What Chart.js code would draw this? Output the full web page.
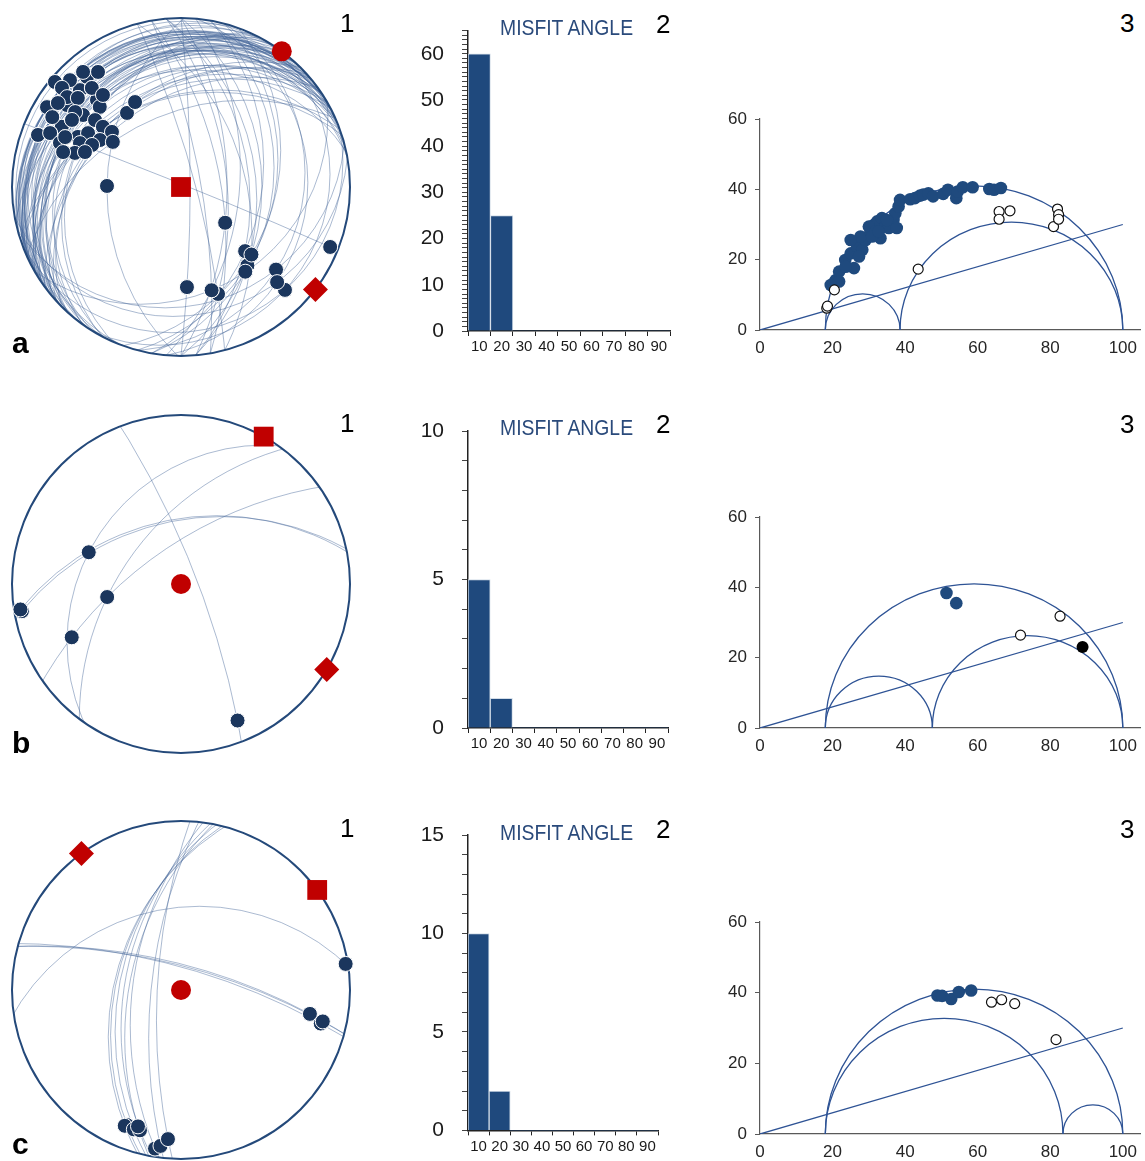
<!DOCTYPE html>
<html>
<head>
<meta charset="utf-8">
<script src="https://cdn.jsdelivr.net/npm/chart.js@4.4.1/dist/chart.umd.min.js"></script>
<style>
  html, body { margin: 0; padding: 0; background: #fff; overflow: hidden; }
  #page { position: relative; width: 1145px; height: 1161px; overflow: hidden; background: #fff;
          font-family: 'Liberation Sans', Arial, sans-serif; }
  canvas { position: absolute; }
  .lbl { position: absolute; line-height: 1; white-space: nowrap; color: #000; }
  .row { font-weight: bold; font-size: 30px; }
  .num { font-size: 26px; }
  .title { font-size: 22px; color: #2a4a7b; transform: scaleX(0.88); transform-origin: left top; }
</style>
</head>
<body>
<div id="page">
  <canvas id="netA" width="370" height="370" style="left:-4px;top:2px"></canvas>
  <canvas id="netB" width="370" height="370" style="left:-4px;top:399px"></canvas>
  <canvas id="netC" width="370" height="370" style="left:-4px;top:805px"></canvas>

  <canvas id="histA" width="290" height="370" style="left:400px;top:0px"></canvas>
  <canvas id="histB" width="290" height="370" style="left:400px;top:400px"></canvas>
  <canvas id="histC" width="290" height="361" style="left:400px;top:800px"></canvas>

  <canvas id="mohrA" width="445" height="280" style="left:700px;top:90px"></canvas>
  <canvas id="mohrB" width="445" height="280" style="left:700px;top:490px"></canvas>
  <canvas id="mohrC" width="445" height="271" style="left:700px;top:890px"></canvas>

  <div class="lbl row" style="left:12px;top:328px">a</div>
  <div class="lbl row" style="left:12px;top:728px">b</div>
  <div class="lbl row" style="left:12px;top:1129px">c</div>

  <div class="lbl num" style="left:340px;top:10px">1</div>
  <div class="lbl num" style="left:340px;top:410px">1</div>
  <div class="lbl num" style="left:340px;top:815px">1</div>
  <div class="lbl num" style="left:656px;top:11px">2</div>
  <div class="lbl num" style="left:656px;top:411px">2</div>
  <div class="lbl num" style="left:656px;top:816px">2</div>
  <div class="lbl num" style="left:1120px;top:10px">3</div>
  <div class="lbl num" style="left:1120px;top:411px">3</div>
  <div class="lbl num" style="left:1120px;top:816px">3</div>

  <div class="lbl title" style="left:500px;top:17px">MISFIT ANGLE</div>
  <div class="lbl title" style="left:500px;top:417px">MISFIT ANGLE</div>
  <div class="lbl title" style="left:500px;top:822px">MISFIT ANGLE</div>
</div>

<script>
// fault data: [strike (right hand rule), dip, trend of the slip line]
const faultsA = [
  [220, 1.7, 309.8], [244, 5.6, 313.9], [255, 7.1, 319.6], [244, 10.1, 324.2], [260, 10.2, 319.5],
  [238, 5.3, 309.8], [256, 12.6, 313.8], [243, 14, 318], [230, 19, 319.7], [238, 9.2, 308.3],
  [246, 13.5, 310.8], [236, 19.1, 316], [241, 5.3, 300.8], [232, 7.6, 304.3], [248, 12.4, 305.7],
  [240, 22.7, 314.6], [208, 8.1, 298.5], [235, 15.9, 305.3], [232, 14.7, 296.8], [222, 16, 301.6],
  [246, 21.1, 306.3], [236, 25.5, 307.9], [250, 33.8, 307.6], [234, 35.8, 308.6], [200, 6, 290],
  [222, 10.7, 292.4], [228, 18.1, 293.3], [216, 22, 295.9], [240, 28.4, 300.1], [228, 33.3, 300.1],
  [246, 43.2, 303.5], [215, 15.9, 290], [204, 23.8, 293.5], [225, 31.1, 295.3], [222, 19.6, 286.5],
  [208, 23.5, 287.8], [230, 31.2, 290], [252, 34.4, 323.9], [242, 30.5, 331.6], [181, 42.7, 270.8],
  [252, 6, 313.9], [246, 10.2, 324.2], [245, 5.5, 309.8], [250, 14.5, 318], [230, 8.9, 308.3],
  [226, 12.3, 310.8], [216, 4.6, 300.8], [239, 7.9, 304.3], [236, 9.2, 298.5], [227, 15.3, 305.3],
  [237, 17.3, 301.6], [225, 6.6, 290], [214, 10.3, 292.4], [212, 15.7, 290], [207, 18.2, 286.5],
  [223, 17.5, 293.3], [240, 6.5, 319.6], [258, 21.3, 319.7],
  [350, 63.5, 129], [10, 39, 135], [20, 32.2, 133.8], [0, 38.8, 139.8], [355, 42, 142.8],
  [15, 18.3, 131], [5, 16.3, 134.7], [30, 8.5, 134.7], [0, 83.8, 176.6], [350, 76.4, 163.5],
  [345, 80.2, 160.9], [355, 45.9, 135], [15, 32.2, 139.8], [75, 19.8, 131], [70, 9.1, 134.7],
  [80, 15.4, 134.7], [355, 59.4, 160.9], [5, 51.8, 163.5], [345, 48.1, 133.8], [10, 33.2, 142.8],
  [0, 59.5, 129], [60, 25.6, 163.5], [292, 88, 111.9]
];
const faultsB = [
  [339, 79, 157.5], [258, 49, 260.3], [259, 48, 261], [215, 31, 289], [217, 53, 260], [235, 65, 244]
];
const faultsC = [
  [194, 48, 201.8], [195, 47, 202.5], [192, 50, 198.7], [190, 53, 196.3], [191, 56, 197.5],
  [187.5, 58, 189.3], [186, 70, 187.5], [183, 74, 185],
  [262, 38, 81], [285, 73, 100.5], [286, 75, 103.5], [285, 74, 102.5]
];

// principal stress axes [trend, plunge]: sigma1, sigma2, sigma3
const stressA = [[36.6, 0], [0, 90], [127.3, 0]];
const stressB = [[0, 90], [29.3, 0], [120.4, 0]];
const stressC = [[0, 90], [53.7, 0], [323.9, 0]];

// misfit angle histogram
const misfitBins = ['10', '20', '30', '40', '50', '60', '70', '80', '90'];
const misfitA = [60, 25, 0, 0, 0, 0, 0, 0, 0];
const misfitB = [5, 1, 0, 0, 0, 0, 0, 0, 0];
const misfitC = [10, 2, 0, 0, 0, 0, 0, 0, 0];

// Mohr diagram: sigma3, sigma2, sigma1 and normal/shear stress of each fault
const sigmaA = [18, 38.6, 100];
const sigmaB = [18, 47.5, 100];
const sigmaC = [18, 83.5, 100];
const frictionX = [0, 100];
const frictionY = [0, 30];

const mohrFitA = [
  [20.5, 13.5], [20.9, 14.2], [21.8, 16.6], [23.5, 19.9], [25, 21.8], [25.9, 17.6], [26.8, 23.7],
  [28.2, 22.8], [29.1, 25.6], [27.7, 26.6], [30.5, 28], [31.4, 29.9], [32.3, 30.9], [33.6, 31.8],
  [34.5, 29.4], [33.2, 26.1], [35.5, 29], [36.8, 31.3], [37.3, 33.2], [38.2, 35.1], [37.7, 29],
  [38.6, 37], [41.4, 37.2], [42.7, 37.5], [44.1, 38.2], [45, 38.5], [46.4, 38.9], [47.7, 38],
  [50.5, 38.7], [51.8, 39.9], [54.1, 37.5], [54.5, 39.4], [55.9, 40.6], [58.6, 40.6], [63.2, 40.1],
  [64.5, 39.9], [66.4, 40.4], [25, 25.6], [30, 29.4], [31.8, 28], [27.3, 20.9], [30.9, 26.6],
  [32.7, 28], [35, 31.3], [23.6, 18], [21.8, 13.8], [19.5, 12.8]
];
const mohrOpenA = [
  [18.4, 6.2], [18.6, 6.8], [20.5, 11.4], [43.6, 17.3], [65.9, 33.7], [65.9, 31.5], [68.9, 33.9],
  [80.9, 29.4], [82, 34.4], [82.3, 32.8], [82.3, 31.5]
];
const mohrFitB = [[51.4, 38.4], [54.1, 35.5]];
const mohrOpenB = [[71.8, 26.4], [82.7, 31.8]];
const mohrBlackB = [[88.9, 23]];
const mohrFitC = [[48.9, 39.2], [50.2, 39.1], [52.7, 38.2], [54.8, 40.2], [58.2, 40.6]];
const mohrOpenC = [[63.8, 37.3], [66.6, 38], [70.2, 36.9], [81.6, 26.7]];

Chart.defaults.font.family = "'Liberation Sans', Arial, sans-serif";

const D2R = Math.PI / 180;

// equal angle lower hemisphere projection
function project(trend, plunge) {
  const r = Math.tan((90 - plunge) / 2 * D2R);
  return { x: r * Math.sin(trend * D2R), y: r * Math.cos(trend * D2R) };
}

// slip line lying in the fault plane (apparent dip along its trend)
function slipPoint(strike, dip, trend) {
  let plunge = Math.atan(Math.tan(dip * D2R) * Math.sin((trend - strike) * D2R)) / D2R;
  if (plunge < 0) {
    trend += 180;
    plunge = -plunge;
  }
  return project(trend, plunge);
}

function greatCircles(faults) {
  return {
    id: 'greatCircles',
    beforeDatasetsDraw(chart) {
      const { ctx, scales: { x, y } } = chart;
      const cx = x.getPixelForValue(0), cy = y.getPixelForValue(0);
      const R = x.getPixelForValue(1) - cx;
      ctx.save();
      ctx.beginPath();
      ctx.arc(cx, cy, R, 0, 2 * Math.PI);
      ctx.clip();
      ctx.strokeStyle = 'rgba(62, 96, 150, 0.55)';
      ctx.lineWidth = 0.8;
      faults.forEach(([strike, dip]) => {
        const dd = (strike + 90) * D2R;
        const t = Math.tan(dip * D2R);
        const px = x.getPixelForValue(-t * Math.sin(dd));
        const py = y.getPixelForValue(-t * Math.cos(dd));
        ctx.beginPath();
        ctx.arc(px, py, R / Math.cos(dip * D2R), 0, 2 * Math.PI);
        ctx.stroke();
      });
      ctx.restore();
      // primitive circle
      ctx.save();
      ctx.strokeStyle = '#24497a';
      ctx.lineWidth = 2;
      ctx.beginPath();
      ctx.arc(cx, cy, R, 0, 2 * Math.PI);
      ctx.stroke();
      ctx.restore();
    }
  };
}

function stereonet(id, faults, stress) {
  const lim = 185 / 169;
  const red = '#c00000';
  new Chart(document.getElementById(id), {
    type: 'scatter',
    data: {
      datasets: [
        { data: faults.map(f => slipPoint(f[0], f[1], f[2])), pointRadius: 7.5,
          backgroundColor: '#1b365d', borderColor: '#ffffff', borderWidth: 1, order: 2 },
        { data: [project(stress[0][0], stress[0][1])], pointStyle: 'circle', pointRadius: 10,
          backgroundColor: red, borderWidth: 0, order: 0 },
        { data: [project(stress[1][0], stress[1][1])], pointStyle: 'rect', pointRadius: 14,
          backgroundColor: red, borderWidth: 0, order: 0 },
        { data: [project(stress[2][0], stress[2][1])], pointStyle: 'rectRot', pointRadius: 12.5,
          backgroundColor: red, borderWidth: 0, order: 0 }
      ]
    },
    options: {
      responsive: false,
      animation: false,
      layout: { padding: 0, autoPadding: false },
      plugins: { legend: { display: false }, tooltip: { enabled: false } },
      scales: {
        x: { display: false, min: -lim, max: lim },
        y: { display: false, min: -lim, max: lim }
      }
    },
    plugins: [greatCircles(faults)]
  });
}

function histogram(id, counts, yMax, labelEvery, box) {
  new Chart(document.getElementById(id), {
    type: 'bar',
    data: {
      labels: misfitBins,
      datasets: [{
        data: counts,
        backgroundColor: '#1f497d',
        borderColor: '#d3dde8',
        borderWidth: c => (c.raw > 0 ? 1 : 0),
        barPercentage: 1,
        categoryPercentage: 1
      }]
    },
    options: {
      responsive: false,
      animation: false,
      layout: { padding: { top: box.top, right: box.right, left: 0, bottom: 0 }, autoPadding: false },
      plugins: { legend: { display: false }, tooltip: { enabled: false } },
      scales: {
        x: {
          grid: { drawOnChartArea: false, tickLength: 5, color: '#222' },
          border: { color: '#222', width: 1.5 },
          ticks: { color: '#1a1a1a', font: { size: 15 }, padding: 2, maxRotation: 0, autoSkip: false },
          afterFit: s => { s.height = box.bottom; }
        },
        y: {
          min: 0,
          max: yMax,
          grid: { drawOnChartArea: false, tickLength: 6, color: '#444' },
          border: { color: '#222', width: 1.5 },
          ticks: {
            stepSize: 1, autoSkip: false, maxTicksLimit: 200, color: '#1a1a1a', font: { size: 21 }, padding: 18,
            callback: v => (v % labelEvery === 0 ? v : '')
          },
          afterFit: s => { s.width = box.left; }
        }
      }
    }
  });
}

function mohrCircles(sigma) {
  const pairs = [[sigma[0], sigma[2]], [sigma[0], sigma[1]], [sigma[1], sigma[2]]];
  return {
    id: 'mohrCircles',
    beforeDatasetsDraw(chart) {
      const { ctx, scales: { x, y } } = chart;
      const base = y.getPixelForValue(0);
      ctx.save();
      ctx.strokeStyle = '#2e5395';
      ctx.lineWidth = 1.3;
      pairs.forEach(([a, b]) => {
        const cx = x.getPixelForValue((a + b) / 2);
        const rx = x.getPixelForValue(b) - cx;
        const ry = base - y.getPixelForValue((b - a) / 2);
        ctx.beginPath();
        ctx.ellipse(cx, base, rx, ry, 0, Math.PI, 2 * Math.PI);
        ctx.stroke();
      });
      ctx.restore();
    }
  };
}

function mohr(id, sigma, fitted, open, black, box) {
  const toXY = list => list.map(p => ({ x: p[0], y: p[1] }));
  new Chart(document.getElementById(id), {
    type: 'scatter',
    data: {
      datasets: [
        { data: toXY(fitted), pointRadius: 6.3, backgroundColor: '#1f4a7e', borderWidth: 0, order: 1 },
        { data: toXY(open), pointRadius: 5, backgroundColor: '#ffffff', borderColor: '#111', borderWidth: 1.2, order: 0 },
        { data: toXY(black), pointRadius: 6, backgroundColor: '#000', borderWidth: 0, order: 0 },
        { data: frictionX.map((v, i) => ({ x: v, y: frictionY[i] })), showLine: true, pointRadius: 0,
          borderColor: '#2e5395', borderWidth: 1.3, order: 5 }
      ]
    },
    options: {
      responsive: false,
      animation: false,
      layout: { padding: { top: box.top, right: 0, left: 0, bottom: 0 }, autoPadding: false },
      plugins: { legend: { display: false }, tooltip: { enabled: false } },
      scales: {
        x: {
          min: 0,
          max: 104.9,
          grid: { display: false, drawTicks: false },
          border: { color: '#595959', width: 1.2 },
          ticks: { stepSize: 20, includeBounds: false, color: '#262626', font: { size: 17 }, padding: 8,
                   maxRotation: 0, autoSkip: false },
          afterFit: s => { s.height = box.bottom; }
        },
        y: {
          min: 0,
          max: 60,
          grid: { drawOnChartArea: false, tickLength: 5, color: '#595959' },
          border: { color: '#595959', width: 1.2 },
          ticks: { stepSize: 20, color: '#262626', font: { size: 17 }, padding: 8 },
          afterFit: s => { s.width = 60; }
        }
      }
    },
    plugins: [mohrCircles(sigma)]
  });
}

stereonet('netA', faultsA, stressA);
stereonet('netB', faultsB, stressB);
stereonet('netC', faultsC, stressC);

histogram('histA', misfitA, 65, 10, { left: 68, top: 30, right: 20, bottom: 39 });
histogram('histB', misfitB, 10, 5, { left: 68, top: 31, right: 22, bottom: 42 });
histogram('histC', misfitC, 15, 5, { left: 68, top: 35, right: 32, bottom: 28 });

mohr('mohrA', sigmaA, mohrFitA, mohrOpenA, [], { top: 29, bottom: 40 });
mohr('mohrB', sigmaB, mohrFitB, mohrOpenB, mohrBlackB, { top: 27, bottom: 42 });
mohr('mohrC', sigmaC, mohrFitC, mohrOpenC, [], { top: 32, bottom: 27 });
</script>
</body>
</html>
